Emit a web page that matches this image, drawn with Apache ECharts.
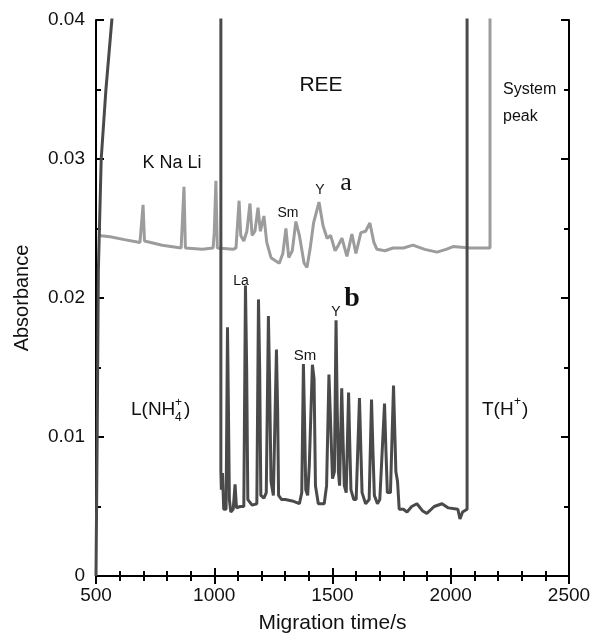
<!DOCTYPE html>
<html>
<head>
<meta charset="utf-8">
<script src="https://cdn.jsdelivr.net/npm/echarts@6/dist/echarts.min.js"></script>
<style>html,body{margin:0;padding:0;background:#fff}#c{width:596px;height:639px}</style>
</head>
<body>
<div id="c"></div>
<script>
// Trace a (upper, light gray): [migration time s, absorbance]
const traceA = [[510,0.0245],[560,0.0244],[620,0.0242],[686,0.0240],[693,0.0241],[699,0.0267],[705,0.0241],[712,0.0240],[780,0.0238],[860,0.0236],[866,0.0237],[872,0.0280],[878,0.0236],[885,0.0235],[950,0.0235],[995,0.0236],[1000,0.0247],[1007,0.02844],[1013,0.0236],[1020,0.0235],[1080,0.0235],[1092,0.0236],[1105,0.0270],[1112,0.0245],[1125,0.0241],[1138,0.0248],[1151,0.0268],[1160,0.0245],[1172,0.0248],[1185,0.0265],[1195,0.0248],[1210,0.0259],[1222,0.0240],[1240,0.0229],[1257,0.0227],[1275,0.0225],[1290,0.0232],[1303,0.0250],[1315,0.0229],[1330,0.0234],[1345,0.0255],[1360,0.0245],[1380,0.0225],[1392,0.0222],[1405,0.0235],[1420,0.0254],[1443,0.0269],[1460,0.0252],[1477,0.0243],[1492,0.0245],[1511,0.0234],[1525,0.0238],[1540,0.0243],[1561,0.0230],[1582,0.0246],[1599,0.0232],[1620,0.0247],[1640,0.0248],[1658,0.0254],[1675,0.0240],[1688,0.0235],[1722,0.0234],[1756,0.0236],[1800,0.0236],[1840,0.0238],[1890,0.0235],[1942,0.0233],[1980,0.0235],[2010,0.0237],[2080,0.0236],[2166,0.0236],[2166,0.045]];
// Trace b (lower, dark gray)
const traceB = [[500,0],[505,0.01],[510,0.022],[522,0.030],[542,0.035],[567,0.040],[580,0.045],[1028,0.045],[1028,0.0075],[1030,0.0062],[1035,0.0074],[1040,0.0048],[1050,0.0048],[1056,0.0179],[1060,0.0120],[1064,0.0055],[1070,0.0046],[1080,0.0048],[1088,0.0066],[1094,0.0049],[1110,0.0050],[1125,0.0050],[1132,0.0209],[1137,0.0150],[1142,0.0055],[1160,0.0051],[1180,0.0052],[1187,0.0199],[1192,0.0150],[1197,0.0058],[1210,0.0056],[1220,0.0060],[1229,0.0187],[1234,0.0140],[1240,0.0068],[1250,0.0058],[1263,0.0163],[1268,0.0120],[1272,0.0058],[1285,0.0055],[1300,0.0055],[1330,0.0054],[1360,0.0052],[1370,0.0060],[1377,0.01525],[1382,0.0110],[1387,0.0062],[1395,0.0058],[1402,0.0080],[1415,0.0152],[1422,0.0142],[1428,0.0065],[1440,0.0052],[1465,0.0052],[1475,0.0065],[1485,0.0145],[1493,0.0145],[1500,0.0070],[1508,0.0075],[1515,0.0184],[1520,0.0120],[1525,0.0075],[1530,0.0065],[1539,0.0135],[1545,0.0095],[1550,0.0065],[1558,0.0060],[1568,0.0132],[1573,0.0095],[1578,0.0062],[1590,0.0055],[1600,0.0055],[1614,0.0128],[1620,0.0090],[1625,0.0060],[1640,0.0052],[1655,0.0055],[1665,0.0127],[1671,0.0090],[1677,0.0058],[1690,0.0052],[1700,0.0055],[1720,0.0124],[1726,0.0090],[1732,0.0060],[1745,0.0060],[1758,0.0137],[1764,0.0100],[1768,0.0075],[1775,0.0068],[1782,0.0048],[1800,0.0048],[1815,0.0046],[1835,0.0050],[1857,0.0052],[1880,0.0047],[1899,0.0045],[1930,0.0050],[1963,0.0052],[1990,0.0049],[2030,0.0048],[2039,0.0041],[2050,0.0046],[2069,0.0048],[2069,0.045]];
const xTicks = [500, 1000, 1500, 2000, 2500];
const yTicks = [0, 0.01, 0.02, 0.03, 0.04];
const xName = 'Migration time/s';
const yName = 'Absorbance';

const F = '"Liberation Sans", Arial, sans-serif';
const SERIF = '"Liberation Serif", "Times New Roman", serif';
const chart = echarts.init(document.getElementById('c'));
const axLine = {show: true, lineStyle: {color: '#000', width: 2}};
const tick = {show: true, inside: true, length: 8, lineStyle: {color: '#000', width: 2}};
const minor = (n) => ({show: true, splitNumber: n, length: 5, lineStyle: {color: '#000', width: 2}});
function txt(x, y, s, size, opts) {
  return Object.assign({type: 'text', x: x, y: y, style: Object.assign({text: s, font: size + 'px ' + F, fill: '#111', textAlign: 'center', textVerticalAlign: 'middle'}, opts || {})});
}
chart.setOption({
  animation: false,
  backgroundColor: '#fff',
  grid: {left: 96, right: 27, top: 20, bottom: 54},
  xAxis: [{
    type: 'value', min: xTicks[0], max: xTicks[xTicks.length-1], interval: 500,
    name: xName, nameLocation: 'middle', nameGap: 37,
    nameTextStyle: {fontFamily: F, fontSize: 21, color: '#111'},
    axisLine: axLine, axisTick: tick, minorTick: minor(5), splitLine: {show: false},
    axisLabel: {fontFamily: F, fontSize: 19, color: '#111', margin: 10, formatter: v => String(v)}
  }, {
    type: 'value', position: 'top', min: xTicks[0], max: xTicks[xTicks.length-1], interval: 500,
    axisLine: axLine, axisTick: tick, minorTick: minor(5), splitLine: {show: false}, axisLabel: {show: false}
  }],
  yAxis: [{
    type: 'value', min: yTicks[0], max: yTicks[yTicks.length-1], interval: 0.01,
    name: yName, nameLocation: 'middle', nameGap: 64, nameRotate: 90,
    nameTextStyle: {fontFamily: F, fontSize: 20, color: '#111'},
    axisLine: axLine, axisTick: tick, minorTick: minor(2), splitLine: {show: false},
    axisLabel: {fontFamily: F, fontSize: 19, color: '#111', margin: 11, formatter: v => (v === 0 ? '0' : v.toFixed(2))}
  }, {
    type: 'value', position: 'right', min: yTicks[0], max: yTicks[yTicks.length-1], interval: 0.01,
    axisLine: axLine, axisTick: tick, minorTick: minor(2), splitLine: {show: false}, axisLabel: {show: false}
  }],
  series: [
    {type: 'line', data: traceA, showSymbol: false, symbol: 'none', clip: true, lineStyle: {color: '#9c9c9c', width: 3}, z: 2},
    {type: 'line', data: traceB, showSymbol: false, symbol: 'none', clip: true, lineStyle: {color: '#4a4a4a', width: 3}, z: 3}
  ],
  graphic: [
    txt(321, 85, 'REE', 21),
    txt(503, 90, 'System', 16, {textAlign: 'left'}),
    txt(503, 117, 'peak', 16, {textAlign: 'left'}),
    txt(172, 163, 'K Na Li', 18),
    txt(288, 213, 'Sm', 14),
    txt(320, 190, 'Y', 14),
    txt(346, 183, 'a', 26, {font: '26px ' + SERIF}),
    txt(241, 281, 'La', 14),
    txt(305, 356, 'Sm', 15),
    txt(336, 312, 'Y', 14),
    txt(352, 299, 'b', 28, {font: 'bold 28px ' + SERIF}),
    txt(131, 410, 'L(NH', 19, {textAlign: 'left'}),
    txt(175, 403, '+', 12, {textAlign: 'left'}),
    txt(175, 418, '4', 12, {textAlign: 'left'}),
    txt(184, 410, ')', 19, {textAlign: 'left'}),
    txt(482, 410, 'T(H', 19, {textAlign: 'left'}),
    txt(514, 402, '+', 12, {textAlign: 'left'}),
    txt(522, 410, ')', 19, {textAlign: 'left'})
  ]
});
</script>
</body>
</html>
